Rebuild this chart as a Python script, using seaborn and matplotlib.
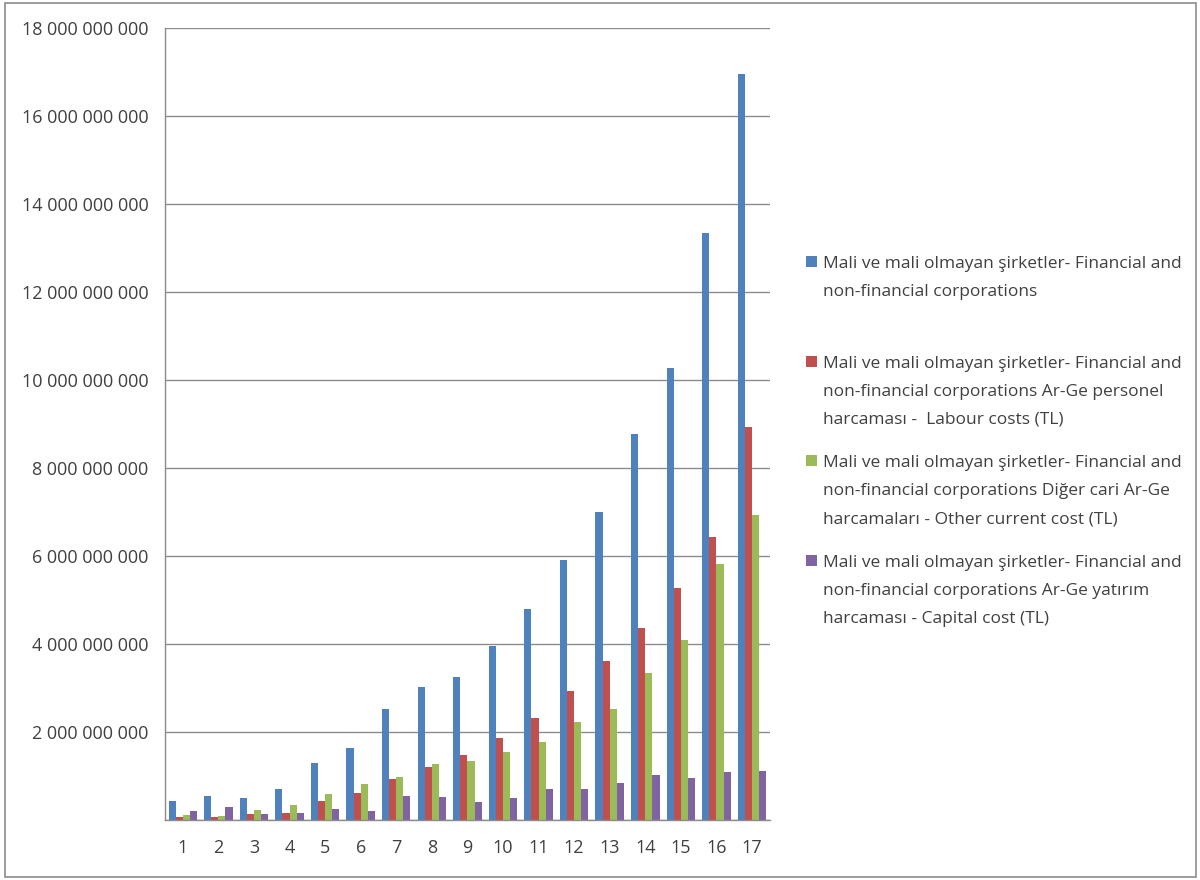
import numpy as np
import pandas as pd
import seaborn as sns
import matplotlib.pyplot as plt
from matplotlib.patches import Rectangle
from matplotlib.ticker import FuncFormatter, MultipleLocator

# -------------------------------------------------------------------
# Data (TL)
# -------------------------------------------------------------------
categories = [str(i) for i in range(1, 18)]

total = [0.43, 0.55, 0.50, 0.70, 1.30, 1.63, 2.52, 3.03, 3.24, 3.95,
         4.80, 5.91, 6.99, 8.77, 10.27, 13.35, 16.95]
labour = [0.06, 0.07, 0.14, 0.16, 0.43, 0.62, 0.93, 1.21, 1.48, 1.86,
          2.31, 2.93, 3.62, 4.36, 5.27, 6.44, 8.93]
other_current = [0.12, 0.10, 0.23, 0.34, 0.58, 0.82, 0.98, 1.27, 1.34, 1.54,
                 1.78, 2.22, 2.53, 3.35, 4.08, 5.81, 6.93]
capital = [0.20, 0.30, 0.13, 0.17, 0.25, 0.20, 0.55, 0.53, 0.40, 0.50,
           0.70, 0.71, 0.85, 1.03, 0.95, 1.08, 1.11]

series_labels = [
    "Mali ve mali olmayan şirketler- Financial and\nnon-financial corporations\n",
    "Mali ve mali olmayan şirketler- Financial and\nnon-financial corporations Ar-Ge personel\nharcaması -  Labour costs (TL)",
    "Mali ve mali olmayan şirketler- Financial and\nnon-financial corporations Diğer cari Ar-Ge\nharcamaları - Other current cost (TL)",
    "Mali ve mali olmayan şirketler- Financial and\nnon-financial corporations Ar-Ge yatırım\nharcaması - Capital cost (TL)",
]

# Excel 2007 default palette
colors = ["#4F81BD", "#C0504D", "#9BBB59", "#8064A2"]

# -------------------------------------------------------------------
# Long-form table for seaborn
# -------------------------------------------------------------------
frames = []
for lab, vals in zip(series_labels, [total, labour, other_current, capital]):
    frames.append(pd.DataFrame({
        "category": categories,
        "value": np.array(vals) * 1e9,
        "series": lab,
    }))
df = pd.concat(frames, ignore_index=True)

# -------------------------------------------------------------------
# Style
# -------------------------------------------------------------------
sns.set_style("white")
plt.rcParams["font.family"] = ["Open Sans", "DejaVu Sans"]
plt.rcParams["text.color"] = "#404040"

fig = plt.figure(figsize=(12, 8.8), dpi=100)
ax = fig.add_axes([0.1375, 0.0682, 0.504, 0.9])

sns.barplot(
    data=df,
    x="category",
    y="value",
    hue="series",
    order=categories,
    hue_order=series_labels,
    palette=colors,
    width=0.8,
    saturation=1,
    linewidth=0,
    ax=ax,
    legend=True,
)

ax.set_xlim(-0.5, 16.5)
ax.set_ylim(0, 18e9)
ax.yaxis.set_major_locator(MultipleLocator(2e9))
# no label at zero, thousands separated by spaces
ax.yaxis.set_major_formatter(
    FuncFormatter(lambda v, p: "" if v == 0 else f"{int(round(v)):,}".replace(",", " "))
)
ax.grid(axis="y", color="#8c8c8c", linewidth=1)
ax.set_axisbelow(True)
ax.set_xlabel("")
ax.set_ylabel("")

for side in ["top", "right"]:
    ax.spines[side].set_visible(False)
for side in ["left", "bottom"]:
    ax.spines[side].set_color("#8c8c8c")
    ax.spines[side].set_linewidth(1)

# category ticks sit between groups, like the spreadsheet axis
ax.set_xticks(np.arange(-0.5, 17, 1), minor=True)
ax.tick_params(axis="x", which="major", length=0, labelsize=13, pad=14, colors="#404040")
ax.tick_params(axis="x", which="minor", length=6, color="#8c8c8c", direction="out")
ax.tick_params(axis="y", which="major", length=6, labelsize=13, pad=6, colors="#404040")
ax.tick_params(axis="y", which="major", color="#8c8c8c")

# legend on the right, entries evenly spaced, square next to first line
handles, labels = ax.get_legend_handles_labels()
ax.get_legend().remove()
leg = fig.legend(
    handles, labels,
    loc="upper left",
    bbox_to_anchor=(0.659, 0.727),
    frameon=False,
    fontsize=12.5,
    handlelength=0.6,
    handleheight=0.6,
    handletextpad=0.35,
    labelspacing=1.6,
)
for t in leg.get_texts():
    t.set_linespacing(2.0)
for col in leg._legend_handle_box.get_children():
    for row in col.get_children():
        row.align = "top"

# thin frame round the whole picture
fig.patches.append(Rectangle((0.004, 0.003), 0.993, 0.994, transform=fig.transFigure,
                             fill=False, edgecolor="#8c8c8c", linewidth=1.2))

fig.savefig("out.png", dpi=100)
